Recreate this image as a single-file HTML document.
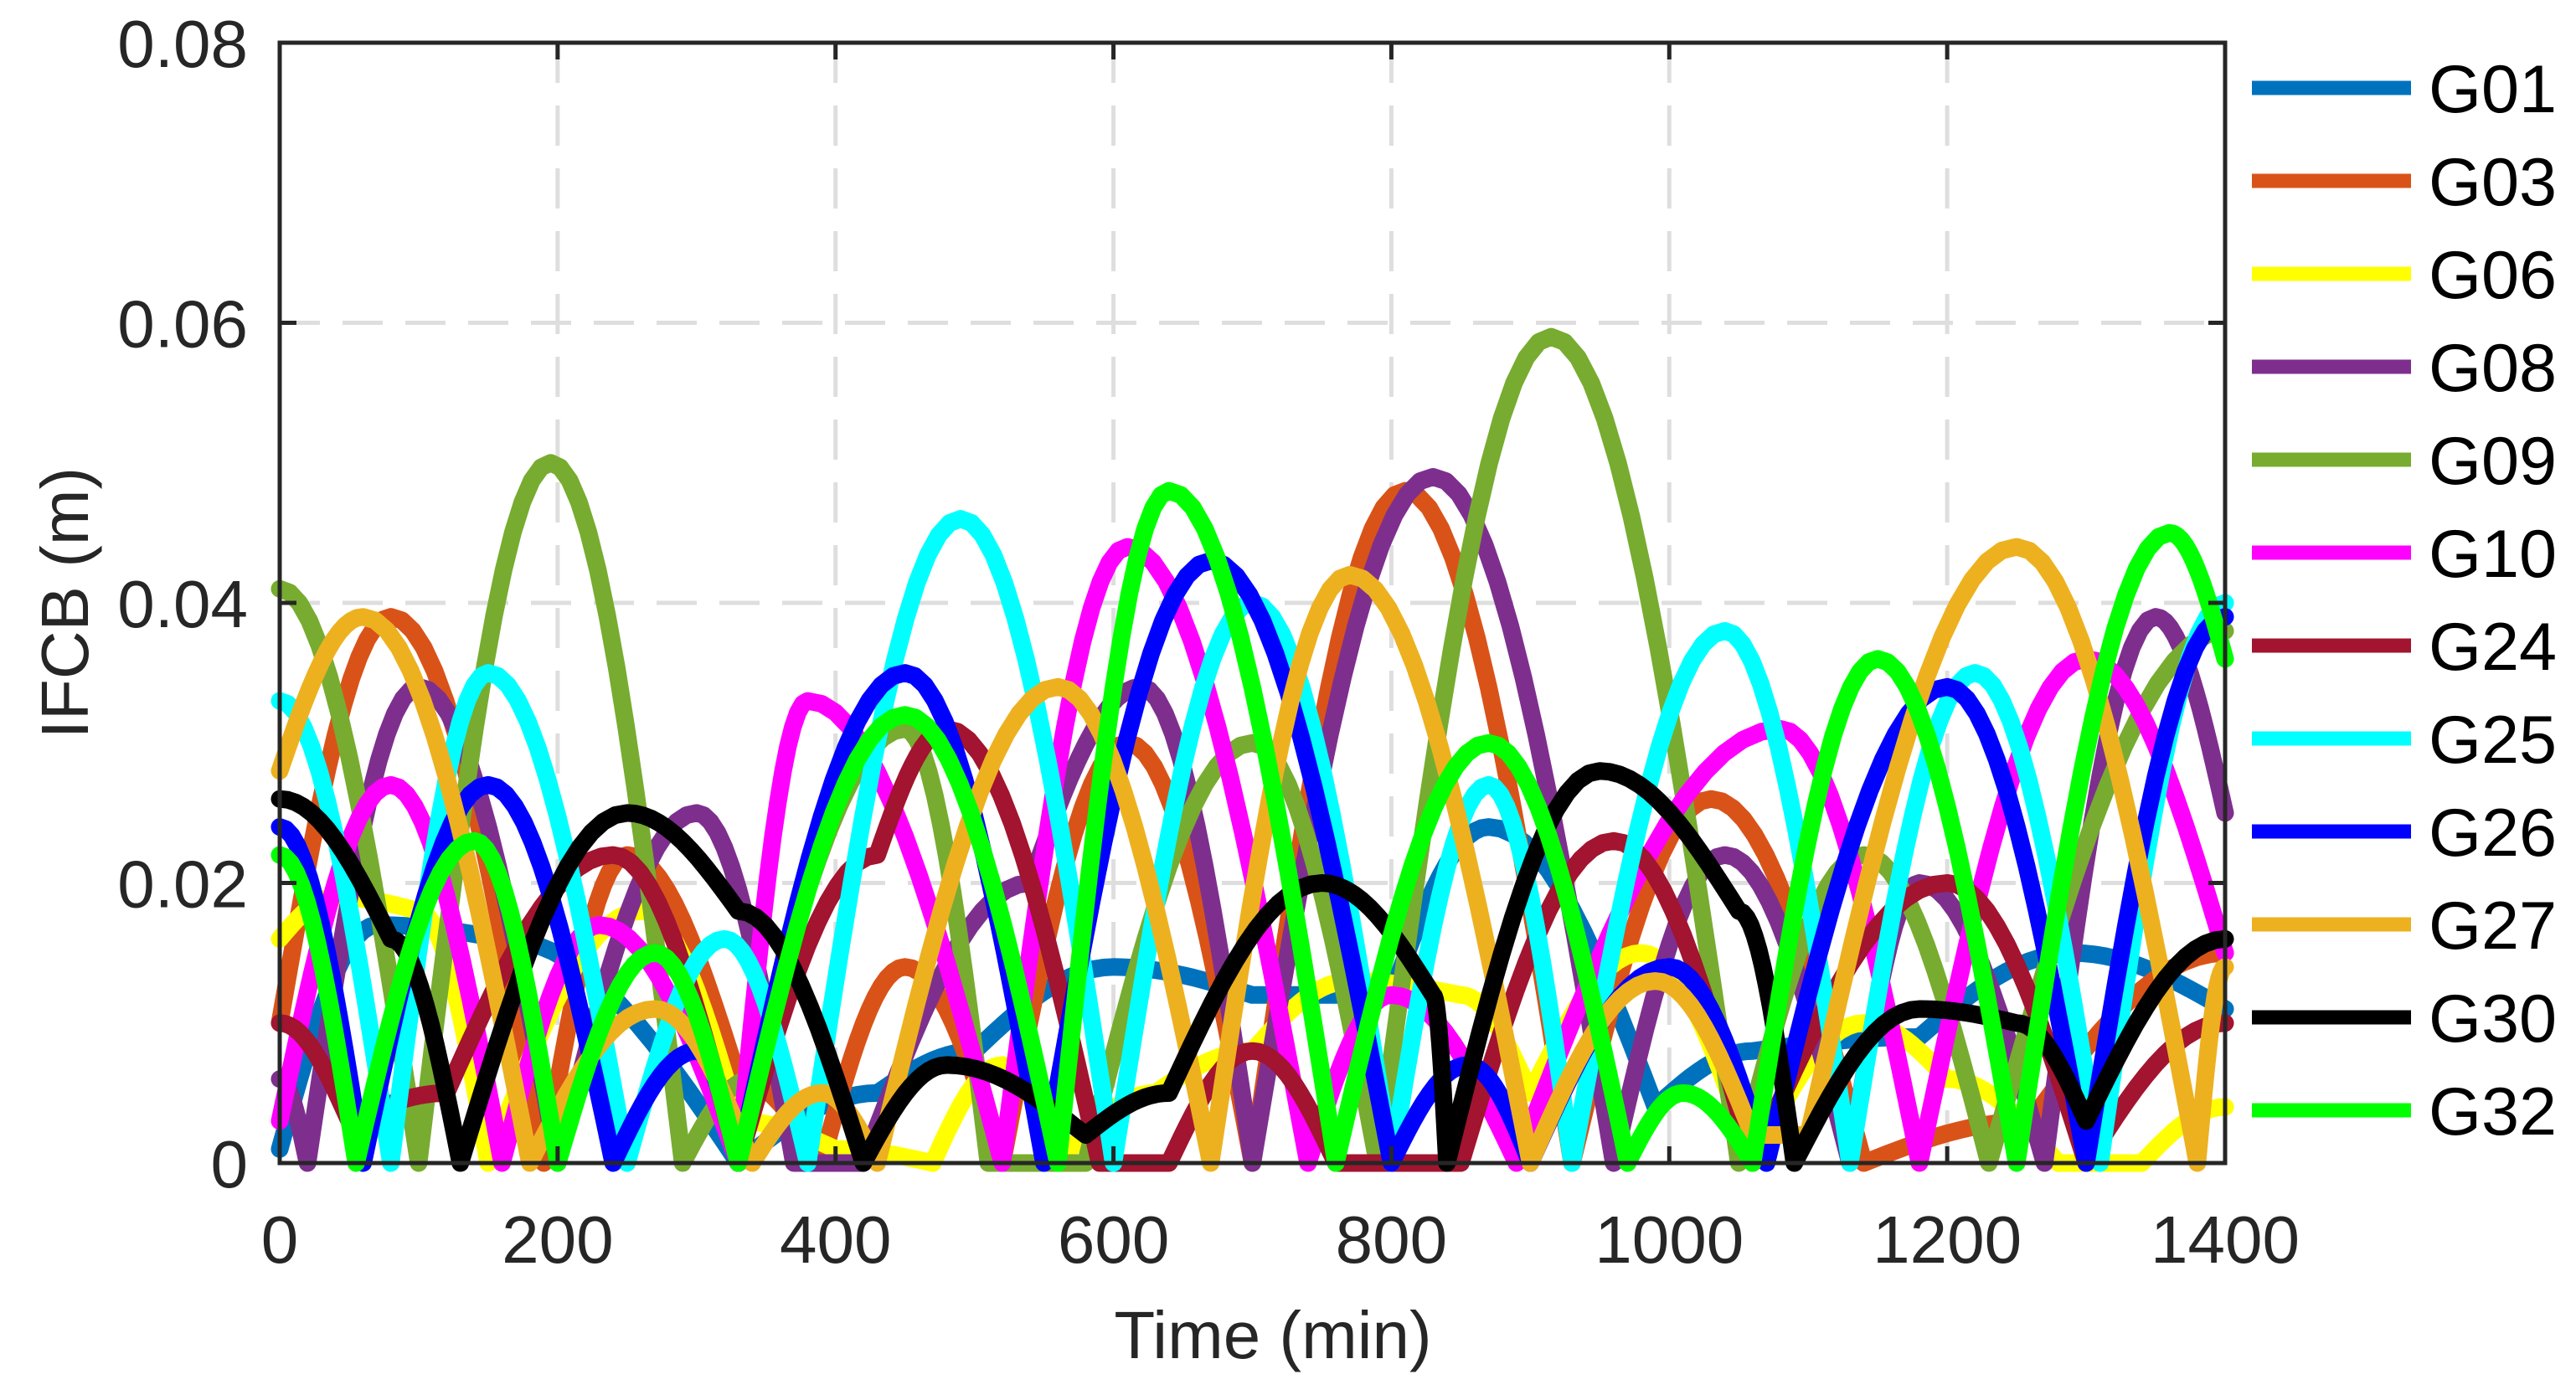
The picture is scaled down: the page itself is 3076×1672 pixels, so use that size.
<!DOCTYPE html>
<html><head><meta charset="utf-8"><style>
html,body{margin:0;padding:0;background:#fff;}
svg{display:block;font-family:"Liberation Sans",Arial,sans-serif;}
</style></head><body>
<svg id="chart" width="3076" height="1672" viewBox="0 0 3076 1672" xmlns="http://www.w3.org/2000/svg">
<rect width="3076" height="1672" fill="#fff"/>
<g id="grid"></g>
<g id="series"></g>
<g id="axes"></g>
<g id="legend"></g>
<text x="1520" y="1622" font-size="80" fill="#262626" text-anchor="middle">Time (min)</text>
<text transform="translate(105,720) rotate(-90)" font-size="80" fill="#262626" text-anchor="middle">IFCB (m)</text>
</svg>
<script>
const xTicks = [0,200,400,600,800,1000,1200,1400];
const yTicks = [0,0.02,0.04,0.06,0.08];
const yTickLabels = ["0","0.02","0.04","0.06","0.08"];
const names = ["G01","G03","G06","G08","G09","G10","G24","G25","G26","G27","G30","G32"];
const colors = ["#0072BD","#D95319","#FFFF00","#7E2F8E","#77AC30","#FF00FF","#A2142F","#00FFFF","#0000FF","#EDB120","#000000","#00FF00"];
const tG01=[0,70,160,330,430,500,600,700,800,870,990,1060,1180,1290,1400];
const vG01=[0.001,0.017,0.016,0.0,0.005,0.008,0.014,0.012,0.012,0.024,0.004,0.008,0.009,0.015,0.011];
const tG03=[0,80,190,250,330,390,450,520,610,700,810,930,1030,1140,1260,1400];
const vG03=[0.01,0.039,0.0,0.022,0.006,0.0,0.014,0.0,0.03,0.0,0.048,0.0,0.026,0.0,0.003,0.015];
const tG06=[0,40,100,150,260,330,400,470,520,560,630,700,770,850,900,980,1060,1140,1200,1280,1340,1400];
const vG06=[0.016,0.019,0.018,0.0,0.018,0.003,0.001,0.0,0.007,0.0,0.005,0.008,0.013,0.012,0.005,0.015,0.0,0.01,0.006,0.0,0.0,0.004];
const tG08=[0,20,100,200,300,370,420,540,620,700,830,960,1040,1130,1180,1270,1350,1400];
const vG08=[0.006,0.0,0.034,0.0,0.025,0.0,0.0,0.02,0.034,0.0,0.049,0.0,0.022,0.0,0.02,0.0,0.039,0.025];
const tG09=[0,100,195,290,340,450,510,580,700,790,915,1050,1140,1230,1400];
const vG09=[0.041,0.0,0.050,0.0,0.006,0.031,0.0,0.0,0.030,0.0,0.059,0.0,0.022,0.0,0.038];
const tG10=[0,80,160,230,330,380,520,610,740,800,890,1080,1180,1300,1400];
const vG10=[0.003,0.027,0.0,0.017,0.0,0.033,0.0,0.044,0.0,0.012,0.0,0.031,0.0,0.036,0.015];
const tG24=[0,50,120,240,330,430,480,590,640,700,760,850,960,1060,1200,1300,1400];
const vG24=[0.01,0.003,0.005,0.022,0.0,0.022,0.031,0.0,0.0,0.008,0.0,0.0,0.023,0.0,0.02,0.0,0.01];
const tG25=[0,80,150,250,320,380,490,600,700,800,870,930,1040,1130,1220,1310,1400];
const vG25=[0.033,0.0,0.035,0.0,0.016,0.0,0.046,0.0,0.04,0.0,0.027,0.0,0.038,0.0,0.035,0.0,0.04];
const tG26=[0,60,150,240,300,330,450,550,670,800,855,900,1000,1070,1200,1300,1400];
const vG26=[0.024,0.0,0.027,0.0,0.008,0.0,0.035,0.0,0.043,0.0,0.007,0.0,0.014,0.0,0.034,0.0,0.039];
const tG27=[0,60,180,270,340,390,430,560,670,770,900,990,1060,1100,1250,1380,1400];
const vG27=[0.028,0.039,0.0,0.011,0.0,0.005,0.0,0.034,0.0,0.042,0.0,0.013,0.002,0.002,0.044,0.0,0.014];
const tG30=[0,80,130,250,330,420,480,580,640,750,830,840,950,1050,1090,1180,1250,1300,1400];
const vG30=[0.026,0.016,0.0,0.025,0.018,0.0,0.007,0.002,0.005,0.02,0.012,0.0,0.028,0.018,0.0,0.011,0.01,0.003,0.016];
const tG32=[0,55,140,200,270,330,450,560,640,760,870,970,1010,1060,1150,1250,1360,1400];
const vG32=[0.022,0.0,0.023,0.0,0.015,0.0,0.032,0.0,0.048,0.0,0.03,0.0,0.005,0.0,0.036,0.0,0.045,0.036];
const seriesT=[tG01,tG03,tG06,tG08,tG09,tG10,tG24,tG25,tG26,tG27,tG30,tG32];
const seriesV=[vG01,vG03,vG06,vG08,vG09,vG10,vG24,vG25,vG26,vG27,vG30,vG32];

const L=334,R=2657,T=51,B=1389;
const xs=t=>L+(t-0)/(1400-0)*(R-L);
const ys=v=>B-(v-0)/(0.08-0)*(B-T);
const NS="http://www.w3.org/2000/svg";
function mk(tag,attrs,parent){const e=document.createElementNS(NS,tag);for(const k in attrs)e.setAttribute(k,attrs[k]);parent.appendChild(e);return e;}
const grid=document.getElementById('grid'),axes=document.getElementById('axes'),ser=document.getElementById('series'),leg=document.getElementById('legend');
xTicks.forEach((t,i)=>{
  if(i>0&&i<xTicks.length-1){const g=mk('line',{x1:xs(t),x2:xs(t),y1:T,y2:B,stroke:'#dedede','stroke-width':5,'stroke-dasharray':'48 27'},grid);
  
  }
  const tk=mk('line',{x1:xs(t),x2:xs(t),y1:B,y2:B-20,stroke:'#262626','stroke-width':5},axes);
  
  
  const tk2=mk('line',{x1:xs(t),x2:xs(t),y1:T,y2:T+20,stroke:'#262626','stroke-width':5},axes);
  
  
  const lb=mk('text',{x:xs(t),y:1508,'font-size':80,fill:'#262626','text-anchor':'middle'},axes);
  lb.textContent=String(t);
  
  
});
yTicks.forEach((v,i)=>{
  if(i>0&&i<yTicks.length-1){const g=mk('line',{x1:L,x2:R,y1:ys(v),y2:ys(v),stroke:'#dedede','stroke-width':5,'stroke-dasharray':'48 27'},grid);
  
  }
  const tk=mk('line',{x1:L,x2:L+20,y1:ys(v),y2:ys(v),stroke:'#262626','stroke-width':5},axes);
  
  
  const tk2=mk('line',{x1:R,x2:R-20,y1:ys(v),y2:ys(v),stroke:'#262626','stroke-width':5},axes);
  
  
  const lb=mk('text',{x:296,y:ys(v)+29,'font-size':80,fill:'#262626','text-anchor':'end'},axes);
  lb.textContent=yTickLabels[i];
  
  
});
const box=mk('rect',{x:L,y:T,width:R-L,height:B-T,fill:'none',stroke:'#262626','stroke-width':5},axes);



seriesT.forEach((ts,si)=>{
  const vs=seriesV[si];let pts=[];
  for(let k=0;k<ts.length-1;k++){
    const t0=ts[k],t1=ts[k+1],v0=vs[k],v1=vs[k+1];const n=14;
    for(let j=0;j<n;j++){const s=j/n;let f;
      if(v1>=v0){f=Math.sin(s*Math.PI/2);}else{f=1-Math.cos(s*Math.PI/2);}
      const v=v0+(v1-v0)*f;const t=t0+(t1-t0)*s;
      pts.push(xs(t).toFixed(1)+','+ys(v).toFixed(1));}
  }
  pts.push(xs(ts[ts.length-1]).toFixed(1)+','+ys(vs[vs.length-1]).toFixed(1));
  const p=mk('polyline',{points:pts.join(' '),fill:'none',stroke:colors[si],'stroke-width':21,'stroke-linejoin':'round','stroke-linecap':'round'},ser);
  
  
});
names.forEach((n,i)=>{
  const y=105+i*111;
  const ln=mk('line',{x1:2689,x2:2879,y1:y,y2:y,stroke:colors[i],'stroke-width':17},leg);
  
  
  const tx=mk('text',{x:2900,y:y+29,'font-size':81,fill:'#000'},leg);
  tx.textContent=n;
  
  
});
</script>
</body></html>
